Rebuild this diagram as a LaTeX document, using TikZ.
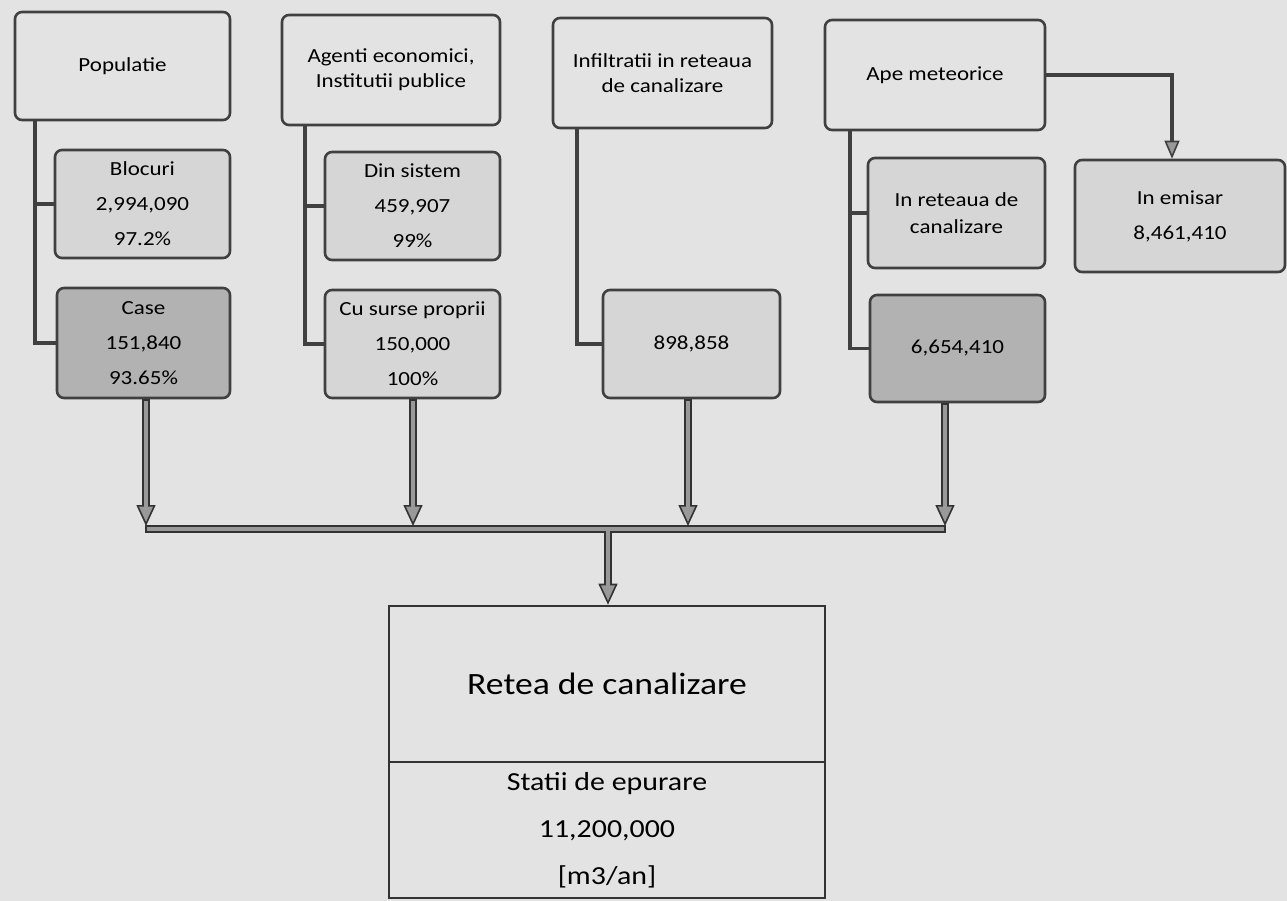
\documentclass[tikz,border=0pt]{standalone}
\usepackage{fontspec}
\setmainfont{Carlito}[FakeStretch=1.15]
\usetikzlibrary{arrows.meta,calc}
\begin{document}
\begin{tikzpicture}[x=1pt,y=-1pt,
  box/.style={draw=black!75, line width=2.6pt, rounded corners=7pt, align=center, inner sep=0pt,
    font=\fontsize{20}{35}\selectfont, text=black},
  lite/.style={fill=black!16},
  dark/.style={fill=black!30},
  twoline/.style={font=\fontsize{20}{25}\selectfont},
  tree/.style={draw=black!75, line width=3.5pt},
  flowout/.style={draw=black!80, line width=8pt,
    -{Triangle[width=19pt,length=21pt,line width=1.6pt,fill=black!40]}},
  flowin/.style={draw=black!40, line width=4.5pt, shorten >=19pt},
  busout/.style={draw=black!80, line width=8pt},
  busin/.style={draw=black!40, line width=4.5pt},
  big/.style={draw=black!80, line width=2.6pt, align=center, inner sep=0pt, text=black}
]
\useasboundingbox (0,0) rectangle (1287,901);
\fill[black!11] (0,0) rectangle (1287,901);

% top row
\node[box, minimum width=215, minimum height=108] (pop) at (122.5,66) {Populatie};
\node[box, twoline, minimum width=218, minimum height=110] (ag) at (391,70) {Agenti economici,\\Institutii publice};
\node[box, twoline, minimum width=219, minimum height=110] (inf) at (662.5,73) {Infiltratii in reteaua\\de canalizare};
\node[box, minimum width=220, minimum height=110] (ape) at (935,75) {Ape meteorice};

% second row
\node[box, lite, minimum width=175, minimum height=108] (bloc) at (142.5,204) {Blocuri\\2,994,090\\97.2\%};
\node[box, lite, minimum width=175, minimum height=108] (din) at (412.5,206) {Din sistem\\459,907\\99\%};
\node[box, lite, font=\fontsize{20}{27}\selectfont, minimum width=177, minimum height=110] (inret) at (956.5,213) {In reteaua de\\canalizare};
\node[box, lite, minimum width=210, minimum height=112] (emi) at (1180,216) {In emisar\\8,461,410};

% third row
\node[box, dark, minimum width=173, minimum height=110] (case) at (143.5,343) {Case\\151,840\\93.65\%};
\node[box, lite, minimum width=175, minimum height=108] (cus) at (412.5,344) {Cu surse proprii\\150,000\\100\%};
\node[box, lite, minimum width=177, minimum height=108] (v898) at (691.5,344) {898,858};
\node[box, dark, minimum width=175, minimum height=107] (v665) at (957.5,348.5) {6,654,410};

% bottom block
\node[big, minimum width=436, minimum height=156, font=\fontsize{31}{31}\selectfont] (ret) at (607,684) {Retea de canalizare};
\node[big, minimum width=436, minimum height=136, font=\fontsize{26}{47}\selectfont] (stat) at (607,830) {Statii de epurare\\11,200,000\\{[}m3/an{]}};

% tree trunks
\coordinate (t1) at (35,0);
\coordinate (t2) at (305,0);
\coordinate (t3) at (577,0);
\coordinate (t4) at (850,0);
\draw[tree] (t1 |- pop.south) |- (case.west);
\draw[tree] (t1 |- bloc.west) -- (bloc.west);
\draw[tree] (t2 |- ag.south) |- (cus.west);
\draw[tree] (t2 |- din.west) -- (din.west);
\draw[tree] (t3 |- inf.south) |- (v898.west);
\draw[tree] (t4 |- ape.south) |- (v665.west);
\draw[tree] (t4 |- inret.west) -- (inret.west);

% ape -> emisar
\coordinate (e1) at (1172,0);
\draw[tree, -{Triangle[width=15pt,length=18pt,line width=1.6pt,fill=black!40]}] (ape.east) -| (e1 |- emi.north);

% flows to bus
\coordinate (busy) at (0,529);
\coordinate (a1) at (146,0);
\coordinate (a2) at (413,0);
\coordinate (a3) at (688,0);
\coordinate (a4) at (945,0);
\coordinate (a5) at (608,0);
\draw[busout] ($(a1 |- busy)+(-1,0)$) -- ($(a4 |- busy)+(1,0)$);
\draw[busin] ($(a1 |- busy)+(1,0)$) -- ($(a4 |- busy)+(-1,0)$);
\foreach \a/\b in {a1/case, a2/cus, a3/v898, a4/v665} {
  \draw[flowout] (\a |- \b.south) -- ($(\a |- busy)+(0,-3)$);
  \draw[flowin] ($(\a |- \b.south)+(0,2)$) -- ($(\a |- busy)+(0,-3)$);
}
\draw[flowout] ($(a5 |- busy)+(0,3)$) -- (a5 |- ret.north);
\draw[flowin] ($(a5 |- busy)+(0,1)$) -- (a5 |- ret.north);
\end{tikzpicture}
\end{document}
